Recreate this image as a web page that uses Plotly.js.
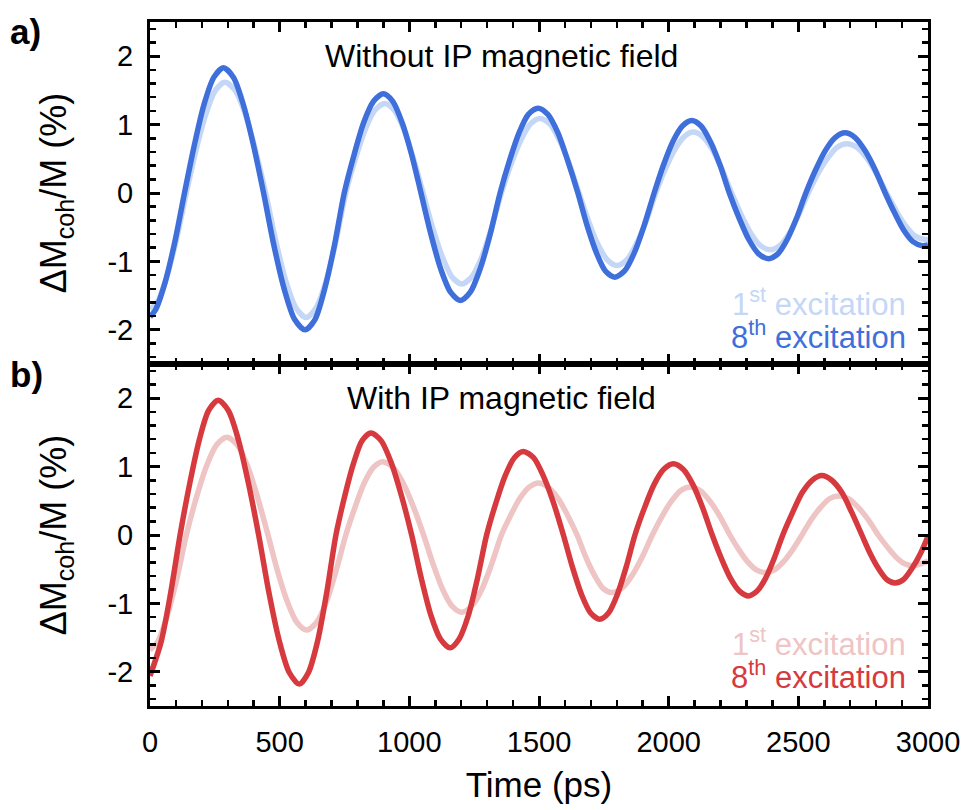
<!DOCTYPE html>
<html>
<head>
<meta charset="utf-8">
<script src="https://cdn.plot.ly/plotly-3.0.1.min.js"></script>
<style>html,body{margin:0;padding:0;background:#fff;}#chart{width:964px;height:810px;}</style>
</head>
<body>
<div id="chart"></div>
<script>
// Panel a) Without IP magnetic field — 8th excitation (read from the figure)
const timeA8 = [0,21,58,96,133,171,208,246,283,322,360,399,438,478,518,558,598,636,673,711,749,787,824,862,900,936,972,1009,1045,1083,1121,1159,1197,1235,1273,1312,1350,1386,1423,1459,1496,1534,1573,1611,1650,1685,1721,1756,1792,1830,1868,1906,1944,1980,2016,2053,2089,2125,2161,2198,2234,2272,2309,2347,2385,2421,2457,2493,2529,2567,2604,2642,2680,2719,2757,2796,2835,2871,2906,2942,2978,3000];
const valA8  = [-1.81,-1.71,-1.31,-0.71,0,0.70,1.29,1.69,1.83,1.69,1.29,0.70,0,-0.77,-1.41,-1.85,-2.00,-1.85,-1.41,-0.77,0,0.56,1.03,1.34,1.45,1.34,1.03,0.56,0,-0.60,-1.11,-1.45,-1.57,-1.45,-1.11,-0.60,0,0.47,0.88,1.15,1.24,1.15,0.88,0.47,0,-0.47,-0.87,-1.14,-1.23,-1.14,-0.87,-0.47,0,0.41,0.75,0.98,1.06,0.98,0.75,0.41,0,-0.37,-0.68,-0.89,-0.96,-0.89,-0.68,-0.37,0,0.34,0.62,0.81,0.88,0.81,0.62,0.34,0,-0.29,-0.54,-0.71,-0.77,-0.76];
// Panel a) — 1st excitation
const timeA1 = [0,28,65,103,140,177,215,252,289,328,368,407,446,485,524,563,602,640,679,717,755,792,830,867,905,942,979,1016,1053,1090,1128,1165,1202,1240,1279,1317,1355,1392,1430,1467,1504,1542,1579,1617,1654,1691,1727,1764,1800,1838,1875,1913,1950,1986,2023,2059,2095,2132,2169,2206,2243,2280,2317,2354,2391,2428,2465,2501,2538,2575,2613,2650,2687,2725,2764,2802,2840,2877,2914,2951,2988,3000];
const valA1  = [-1.70,-1.60,-1.22,-0.66,0,0.62,1.15,1.50,1.62,1.50,1.15,0.62,0,-0.70,-1.29,-1.68,-1.82,-1.68,-1.29,-0.70,0,0.50,0.93,1.21,1.31,1.21,0.93,0.50,0,-0.51,-0.94,-1.23,-1.33,-1.23,-0.94,-0.51,0,0.42,0.77,1.01,1.09,1.01,0.77,0.42,0,-0.41,-0.75,-0.98,-1.06,-0.98,-0.75,-0.41,0,0.34,0.63,0.82,0.89,0.82,0.63,0.34,0,-0.32,-0.59,-0.77,-0.83,-0.77,-0.59,-0.32,0,0.28,0.51,0.67,0.72,0.67,0.51,0.28,0,-0.26,-0.48,-0.63,-0.68,-0.68];
// Panel b) With IP magnetic field — 8th excitation
const timeB8 = [0,43,80,116,153,190,226,263,302,341,380,419,458,498,537,576,611,647,682,717,751,785,818,852,891,931,970,1009,1046,1083,1120,1157,1192,1228,1263,1298,1334,1369,1405,1440,1479,1517,1556,1594,1629,1664,1699,1734,1768,1802,1836,1870,1907,1944,1981,2018,2056,2093,2131,2168,2203,2238,2273,2308,2341,2374,2407,2440,2478,2515,2553,2590,2629,2668,2706,2745,2777,2809,2841,2873,2906,2938,2971,3000];
const valB8  = [-2.06,-1.56,-0.84,0,0.75,1.39,1.82,1.97,1.82,1.39,0.75,0,-0.83,-1.54,-2.01,-2.18,-2.01,-1.54,-0.83,0,0.57,1.05,1.38,1.49,1.38,1.05,0.57,0,-0.63,-1.17,-1.52,-1.65,-1.52,-1.17,-0.63,0,0.47,0.86,1.13,1.22,1.13,0.86,0.47,0,-0.47,-0.87,-1.14,-1.23,-1.14,-0.87,-0.47,0,0.40,0.74,0.96,1.04,0.96,0.74,0.40,0,-0.34,-0.63,-0.82,-0.89,-0.82,-0.63,-0.34,0,0.33,0.62,0.80,0.87,0.80,0.62,0.33,0,-0.27,-0.49,-0.65,-0.70,-0.65,-0.49,-0.27,-0.02];
// Panel b) — 1st excitation
const timeB1 = [0,28,65,103,140,179,218,257,296,336,376,415,455,492,530,567,604,642,680,717,755,791,826,862,897,937,976,1016,1055,1092,1129,1165,1202,1240,1279,1317,1355,1391,1427,1462,1498,1535,1573,1610,1647,1680,1714,1747,1780,1819,1859,1898,1937,1974,2010,2047,2083,2121,2160,2198,2236,2270,2304,2338,2372,2408,2443,2479,2514,2549,2585,2620,2655,2693,2732,2770,2808,2842,2876,2910,2944,3000];
const valB1  = [-1.68,-1.57,-1.20,-0.65,0,0.55,1.01,1.32,1.43,1.32,1.01,0.55,0,-0.53,-0.98,-1.28,-1.39,-1.28,-0.98,-0.53,0,0.41,0.76,0.99,1.07,0.99,0.76,0.41,0,-0.43,-0.80,-1.04,-1.13,-1.04,-0.80,-0.43,0,0.29,0.54,0.70,0.76,0.70,0.54,0.29,0,-0.32,-0.59,-0.78,-0.84,-0.78,-0.59,-0.32,0,0.27,0.49,0.65,0.70,0.65,0.49,0.27,0,-0.21,-0.39,-0.51,-0.55,-0.51,-0.39,-0.21,0,0.22,0.40,0.53,0.57,0.53,0.40,0.22,0,-0.17,-0.32,-0.42,-0.45,-0.38];

const xTickVals = [0,500,1000,1500,2000,2500,3000];
const yTickVals = [-2,-1,0,1,2];
const panelTitles = ["Without IP magnetic field","With IP magnetic field"];
const seriesLabels = ["1<sup>st</sup> excitation","8<sup>th</sup> excitation"];
const panelLetters = ["a)","b)"];

const BLUE = "#3E6FDA", LBLUE = "#C4D7F6", RED = "#D63A3E", LRED = "#EEC4C4";
const FONT = "Liberation Sans, Arial, Helvetica, sans-serif";

function line(x, y, color, xa, ya){
  return {x:x, y:y, xaxis:xa, yaxis:ya, type:"scatter", mode:"lines",
    line:{color:color, width:5.5, shape:"spline", smoothing:0.8}, hoverinfo:"skip", showlegend:false};
}
const data = [
  line(timeA1, valA1, LBLUE, "x", "y"),
  line(timeA8, valA8, BLUE, "x", "y"),
  line(timeB1, valB1, LRED, "x2", "y2"),
  line(timeB8, valB8, RED, "x2", "y2")
];

function xax(anchor, labels){
  return {anchor:anchor, domain:[0,1], range:[0,3000], tickvals:xTickVals, ticktext:xTickVals.map(String),
    showticklabels:labels, ticks:"inside", ticklen:10, tickwidth:3, tickcolor:"#000",
    minor:{ticks:"inside", ticklen:6, tickwidth:2.5, dtick:100, tick0:0, tickcolor:"#000"},
    showline:true, linewidth:3, linecolor:"#000", mirror:"ticks", showgrid:false, zeroline:false,
    tickfont:{family:FONT, size:29, color:"#000"}, ticklabelstandoff:8,
    title: labels ? {text:"Time (ps)", font:{family:FONT, size:35, color:"#000"}, standoff:16} : {text:""}};
}
function yax(domain, anchor){
  return {anchor:anchor, domain:domain, range:[-2.5,2.5], tickvals:yTickVals, ticktext:yTickVals.map(String),
    ticks:"inside", ticklen:10, tickwidth:3, tickcolor:"#000",
    minor:{ticks:"inside", ticklen:6, tickwidth:2.5, dtick:0.2, tick0:0, tickcolor:"#000"},
    showline:true, linewidth:3, linecolor:"#000", mirror:"ticks", showgrid:false, zeroline:false,
    tickfont:{family:FONT, size:29, color:"#000"}, ticklabelstandoff:8,
    title:{text:"ΔM<sub>coh</sub>/M (%)", font:{family:FONT, size:36, color:"#000"}, standoff:30}};
}

const ann = [];
const txt = (text, xref, yref, x, y, color, size, xanchor, bold) => ann.push({
  text: bold ? "<b>"+text+"</b>" : text, xref:xref, yref:yref, x:x, y:y, xanchor:xanchor, yanchor:"middle",
  showarrow:false, font:{family:FONT, size:size, color:color}});
txt(panelTitles[0], "x", "y", 1354, 2.0, "#000", 32, "center");
txt(panelTitles[1], "x2", "y2", 1354, 2.0, "#000", 32, "center");
txt(seriesLabels[0], "x", "y", 2923, -1.59, LBLUE, 31, "right");
txt(seriesLabels[1], "x", "y", 2923, -2.07, BLUE, 31, "right");
txt(seriesLabels[0], "x2", "y2", 2923, -1.57, LRED, 31, "right");
txt(seriesLabels[1], "x2", "y2", 2923, -2.05, RED, 31, "right");
txt(panelLetters[0], "paper", "paper", -0.183, 0.986, "#000", 35, "left", true);
txt(panelLetters[1], "paper", "paper", -0.183, 0.484, "#000", 35, "left", true);

const layout = {
  width:964, height:810, paper_bgcolor:"#fff", plot_bgcolor:"#fff",
  margin:{l:150, r:36, t:22, b:104},
  showlegend:false,
  xaxis: xax("y", false),
  yaxis: yax([0.5,1], "x"),
  xaxis2: xax("y2", true),
  yaxis2: yax([0,0.5], "x2"),
  annotations: ann
};
Plotly.newPlot("chart", data, layout, {displayModeBar:false, staticPlot:true});
</script>
</body>
</html>
